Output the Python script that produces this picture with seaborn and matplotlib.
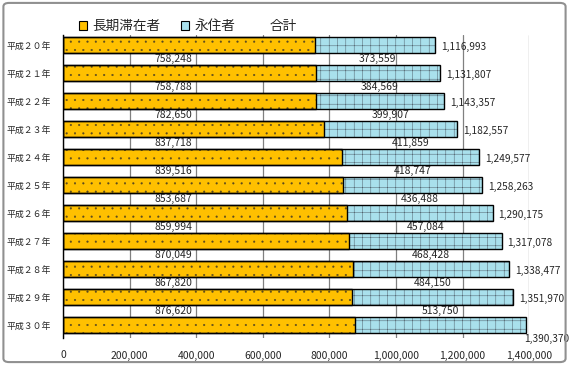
import matplotlib
matplotlib.use("Agg")
import matplotlib.pyplot as plt
from matplotlib.patches import Patch, FancyBboxPatch
import seaborn as sns
import pandas as pd

years = ["平成２０年", "平成２１年", "平成２２年", "平成２３年", "平成２４年", "平成２５年",
         "平成２６年", "平成２７年", "平成２８年", "平成２９年", "平成３０年"]
long_stay = [755724, 758248, 758788, 782650, 837718, 839516,
             853687, 859994, 870049, 867820, 876620]
permanent = [361269, 373559, 384569, 399907, 411859, 418747,
             436488, 457084, 468428, 484150, 513750]
totals = [1116993, 1131807, 1143357, 1182557, 1249577, 1258263,
          1290175, 1317078, 1338477, 1351970, 1390370]
xticks = [0, 200000, 400000, 600000, 800000, 1000000, 1200000, 1400000]

orange = "#FFC000"
blue = "#A9E0EC"

sns.set_style("white")
plt.rcParams['font.family'] = ['Noto Sans CJK JP', 'DejaVu Sans']
plt.rcParams['hatch.linewidth'] = 0.3

df = pd.DataFrame({"year": years, "long": long_stay, "perm": permanent, "total": totals})

fig = plt.figure(figsize=(5.69, 3.65), dpi=100)
ax = fig.add_axes([0.111, 0.074, 0.819, 0.830])

# total first (blue part shows), long stay on top
sns.barplot(data=df, x="total", y="year", orient="h", color=blue, saturation=1,
            width=0.58, edgecolor="#404a55", linewidth=0, ax=ax)
sns.barplot(data=df, x="long", y="year", orient="h", color=orange, saturation=1,
            width=0.58, edgecolor="#5a4a20", linewidth=0, ax=ax)
for p in ax.containers[0]:
    p.set_hatch("++")
for p in ax.containers[1]:
    p.set_hatch("..")

# black outlines on top of the hatched bars
for cont in ax.containers[:2]:
    for p in cont:
        ax.add_patch(plt.Rectangle(p.get_xy(), p.get_width(), p.get_height(),
                                   fill=False, edgecolor="black", linewidth=1))

ax.set_xlim(0, 1400000)
ax.set_ylim(10.46, -0.36)
ax.set_xticks(xticks)
ax.set_xticklabels([f"{v:,}" for v in xticks], fontsize=7.5)
ax.tick_params(axis="y", labelsize=6.4, length=0, pad=9)
ax.tick_params(axis="x", length=0, pad=9)
ax.set_xlabel("")
ax.set_ylabel("")
ax.grid(axis="x", color="#808080", linewidth=0.9)
ax.set_axisbelow(True)
for s in ["top", "right", "bottom"]:
    ax.spines[s].set_visible(False)
ax.spines["left"].set_color("black")
ax.spines["left"].set_linewidth(1)

# value labels (the first year's labels are hidden in the original)
for i in range(1, len(years)):
    ax.text(330000, i - 0.5, f"{long_stay[i]:,}", ha="center", va="center", fontsize=7.5)
    ax.text(long_stay[i] + permanent[i] / 2, i - 0.5, f"{permanent[i]:,}",
            ha="center", va="center", fontsize=7.5)

for i, t in enumerate(totals):
    if i == len(totals) - 1:
        ax.text(t - 6000, i + 0.5, f"{t:,}", ha="left", va="center", fontsize=7.3, clip_on=False)
    else:
        ax.text(t + 18000, i + 0.05, f"{t:,}", ha="left", va="center", fontsize=7.3)

handles = [Patch(facecolor=orange, edgecolor="black", linewidth=0.8),
           Patch(facecolor=blue, edgecolor="black", linewidth=0.8),
           Patch(facecolor="none", edgecolor="none")]
fig.legend(handles, ["長期滞在者", "永住者", "合計"], loc="center left",
           bbox_to_anchor=(0.138, 1 - 26 / 365), ncol=3, frameon=False, fontsize=9.8,
           handlelength=0.6, handleheight=0.6, handletextpad=0.4, columnspacing=1.5,
           borderaxespad=0, borderpad=0)

border = FancyBboxPatch((0.006, 0.008), 0.988, 0.984, boxstyle="round,pad=0,rounding_size=0.01",
                        transform=fig.transFigure, facecolor="none", edgecolor="#909090",
                        linewidth=1.5)
fig.patches.append(border)

fig.savefig("out.png", dpi=100)
